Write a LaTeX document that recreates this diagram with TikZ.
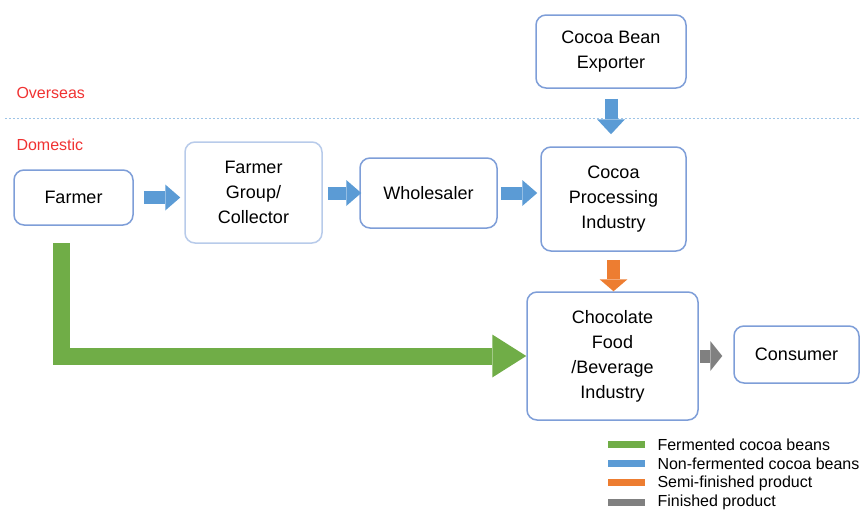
\documentclass[tikz,border=0pt]{standalone}
\usepackage{fontspec}
\setmainfont{Liberation Sans}
\usetikzlibrary{arrows.meta}

\begin{document}
\begin{tikzpicture}[x=1pt,y=-1pt]
      % Define colors
      \definecolor{boxline}{RGB}{126,158,216}
      \definecolor{paleline}{RGB}{184,203,234}
      \definecolor{fermented}{RGB}{112,173,71}
      \definecolor{nonfermented}{RGB}{91,155,213}
      \definecolor{semifinished}{RGB}{237,125,49}
      \definecolor{finished}{RGB}{128,128,128}
      \definecolor{border}{RGB}{157,195,230}
      \definecolor{region}{RGB}{240,50,50}

      % Define styles
      \tikzset{
        stage/.style={draw=boxline, line width=1.5pt, rounded corners=10pt, fill=white,
          align=center, inner sep=0pt, font=\fontsize{18}{25}\selectfont},
        flow/.style={line width=13pt, -{Triangle[length=15pt,width=26pt,line width=0pt]}},
        regionlabel/.style={anchor=west, text=region, font=\fontsize{16}{18}\selectfont},
        legendtext/.style={anchor=west, font=\fontsize{16}{18}\selectfont}
      }

      \useasboundingbox (0,0) rectangle (860,514);

      % Border between overseas and domestic
      \draw[border, line width=1pt, dash pattern=on 2pt off 2pt] (5,118) -- (860,118);
      \node[regionlabel] (overseas) at (13,93) {Overseas};
      \node[regionlabel] (domestic) at (13,145) {Domestic};

      % Stages
      \node[stage, minimum width=150pt, minimum height=73pt] (Exporter) at (611,51.5) {Cocoa Bean\\Exporter};
      \node[stage, minimum width=119pt, minimum height=55pt] (Farmer) at (73.5,197.5) {Farmer};
      \node[stage, draw=paleline, minimum width=137pt, minimum height=101pt] (Group) at (253.5,192.5) {Farmer\\Group/\\Collector};
      \node[stage, minimum width=137pt, minimum height=70pt] (Wholesaler) at (428.5,193) {Wholesaler};
      \node[stage, minimum width=145pt, minimum height=104pt] (Processing) at (613.5,199) {Cocoa\\Processing\\Industry};
      \node[stage, minimum width=171pt, minimum height=128pt] (Chocolate) at (612.5,356) {Chocolate\\Food\\/Beverage\\Industry};
      \node[stage, minimum width=125pt, minimum height=57pt] (Consumer) at (796.5,354.5) {Consumer};

      % Non-fermented beans
      \draw[flow, nonfermented, shorten <=10pt, shorten >=4pt] (Farmer.east) -- (Farmer.east -| Group.west);
      \draw[flow, nonfermented, shorten <=5pt, shorten >=-2pt] (Group.east |- Wholesaler.east) -- (Wholesaler.west);
      \draw[flow, nonfermented, shorten <=3pt, shorten >=3pt] (Wholesaler.east) -- (Wholesaler.east -| Processing.west);
      \draw[flow, nonfermented, shorten <=10pt, shorten >=12pt, -{Triangle[length=15pt,width=28pt,line width=0pt]}] (Exporter.south) -- (Exporter.south |- Processing.north);

      % Semi-finished and finished products
      \draw[flow, semifinished, shorten <=8pt, -{Triangle[length=12pt,width=28pt,line width=0pt]}] (Processing.south) -- (Processing.south |- Chocolate.north);
      \draw[flow, finished, shorten <=1pt, shorten >=11pt, -{Triangle[length=12pt,width=30pt,line width=0pt]}] (Chocolate.east) -- (Chocolate.east -| Consumer.west);

      % Fermented beans
      \coordinate (greenstart) at (61.5,243);
      \draw[fermented, line width=17pt, line join=miter,
        -{Triangle[length=34pt,width=43pt,line width=0pt]}] (greenstart) |- (Chocolate.west);

      % Legend
      \foreach \col/\txt [count=\i] in {fermented/Fermented cocoa beans,
          nonfermented/Non-fermented cocoa beans,
          semifinished/Semi-finished product,
          finished/Finished product} {
        \draw[\col, line width=7pt] (608,425+19.3*\i) -- (645,425+19.3*\i);
        \node[legendtext] (legend\i) at (654,425+19.3*\i) {\txt};
      }

    \end{tikzpicture}
\end{document}
